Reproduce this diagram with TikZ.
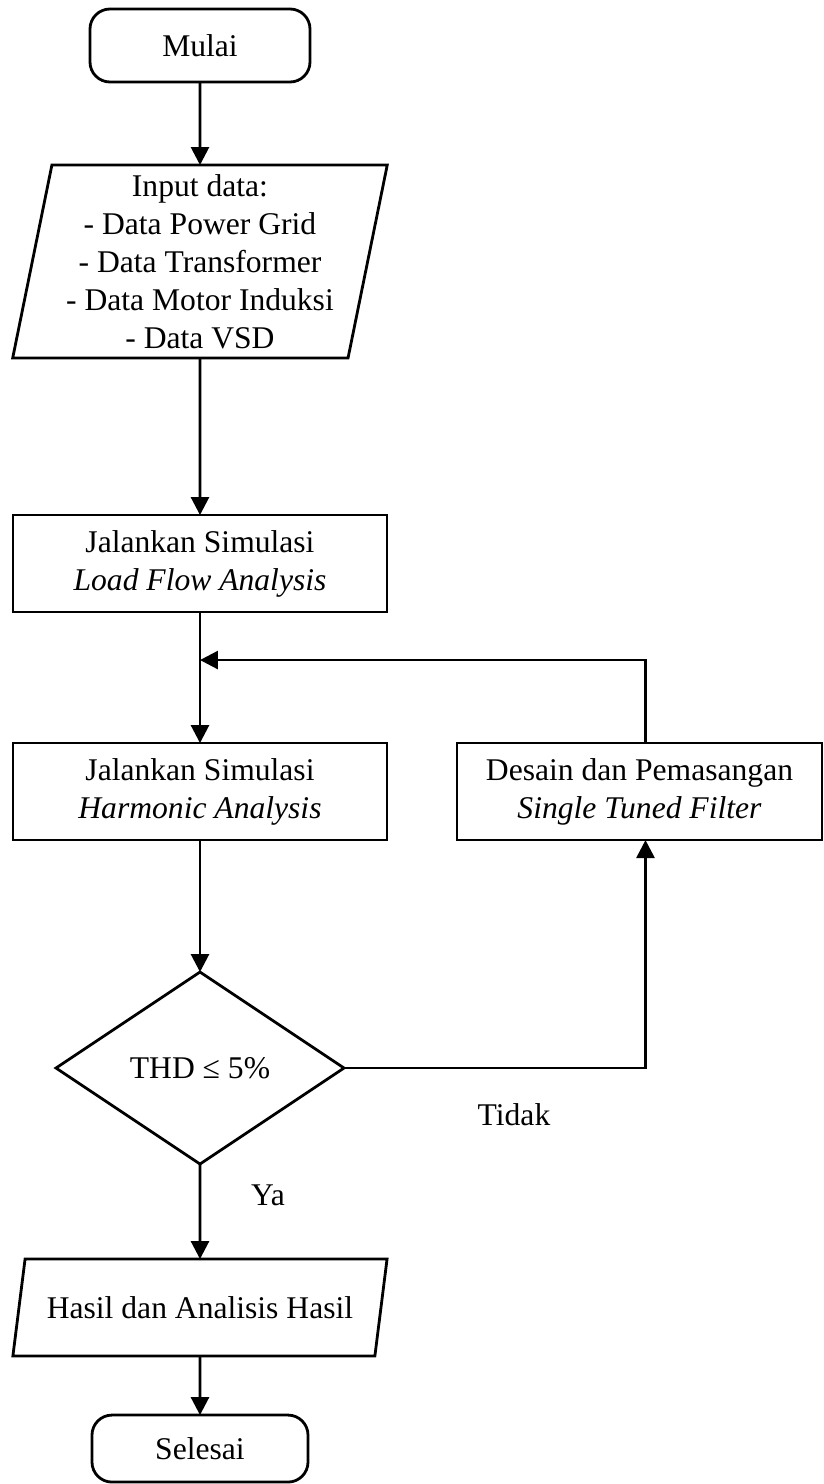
\documentclass[tikz,border=0pt]{standalone}
\usepackage{fontspec}
\setmainfont{Liberation Serif}
\usepackage{tikz}
\usetikzlibrary{arrows.meta,positioning,shapes.geometric}
\tikzset{
  terminal/.style={rectangle,rounded corners=10pt,draw,line width=1.4pt,
    minimum width=110pt,minimum height=36.5pt,align=center,inner sep=2pt,
    outer sep=0pt},
  process/.style={rectangle,draw,line width=1.4pt,minimum width=187pt,
    minimum height=48.5pt,align=center,inner sep=2pt,outer sep=0pt},
  % data in / out: parallelogram
  datain/.style={trapezium,trapezium stretches=true,draw,line width=1.4pt,
    align=center,inner sep=1pt,outer sep=0pt},
  decision/.style={diamond,draw,line width=1.4pt,minimum width=144pt,
    minimum height=96pt,inner sep=0pt,outer sep=0pt},
  arr/.style={-{Triangle[length=9pt,width=9pt]},line width=1.4pt},
  lbl/.style={inner sep=0pt}
}

\begin{document}
\begin{tikzpicture}[font=\fontsize{15.8}{19}\selectfont]
  \node[terminal] (mulai) {Mulai};
  \node[datain, trapezium left angle=78.6, trapezium right angle=101.4,
    minimum width=187.5pt, minimum height=96.5pt, below=41.5pt of mulai] (input)
    {Input data:\\- Data Power Grid\\- Data Transformer\\- Data Motor Induksi\\- Data VSD};
  \node[process, below=78.5pt of input] (lfa) {Jalankan Simulasi\\\textit{Load Flow Analysis}};
  \node[process, below=65.5pt of lfa] (ha) {Jalankan Simulasi\\\textit{Harmonic Analysis}};
  \node[process, minimum width=182.5pt, right=35pt of ha] (stf)
    {Desain dan Pemasangan\\\textit{Single Tuned Filter}};
  \node[decision, below=66pt of ha] (thd) {THD ≤ 5\%};
  \node[datain, trapezium left angle=67.6, trapezium right angle=112.4,
    minimum width=187.5pt, minimum height=48.5pt, below=47.5pt of thd] (hasil)
    {Hasil dan Analisis Hasil};
  \node[terminal, minimum width=108pt, minimum height=33.5pt, below=29.5pt of hasil] (selesai) {Selesai};
  \coordinate[below=24pt of lfa.south] (join);

  \node[lbl] at ([shift={(34pt,-15.5pt)}]thd.south) (ya) {Ya};
  \node[lbl] at ([shift={(85pt,-23.5pt)}]thd.east) (tidak) {Tidak};

  \draw[arr] (mulai) -- (input);
  \draw[arr] (input) -- (lfa);
  \draw[arr] (lfa) -- (ha);
  \draw[arr] ([xshift=3pt]stf.north) |- (join);
  \draw[arr] (ha) -- (thd);
  \draw[arr] (thd) -| ([xshift=3pt]stf.south);
  \draw[arr] (thd) -- (hasil);
  \draw[arr] (hasil) -- (selesai);

  \useasboundingbox ([shift={(-100pt,22.75pt)}]mulai.center) rectangle ++(412pt,-742pt);
\end{tikzpicture}
\end{document}
